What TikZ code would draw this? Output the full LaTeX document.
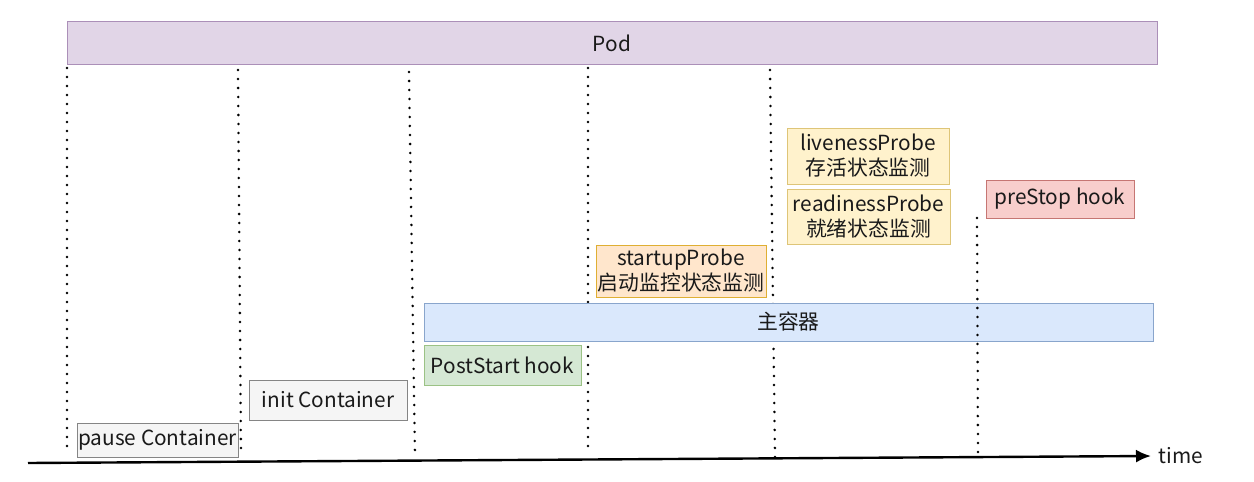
\documentclass[tikz,border=0pt]{standalone}
\usepackage{fontspec}
\setmainfont{Noto Sans CJK SC}
\usepackage{xcolor}
\usetikzlibrary{arrows.meta}

\definecolor{podFill}{HTML}{E1D5E7}
\definecolor{podLine}{HTML}{9673A6}
\definecolor{greyFill}{HTML}{F5F5F5}
\definecolor{greyLine}{HTML}{666666}
\definecolor{greenFill}{HTML}{D5E8D4}
\definecolor{greenLine}{HTML}{82B366}
\definecolor{blueFill}{HTML}{DAE8FC}
\definecolor{blueLine}{HTML}{6C8EBF}
\definecolor{orangeFill}{HTML}{FFE6CC}
\definecolor{orangeLine}{HTML}{D79B00}
\definecolor{yellowFill}{HTML}{FFF2CC}
\definecolor{yellowLine}{HTML}{D6B656}
\definecolor{redFill}{HTML}{F8CECC}
\definecolor{redLine}{HTML}{B85450}
\definecolor{textCol}{HTML}{1A1A1A}

\begin{document}
\begin{tikzpicture}
[
x=0.5pt, y=-0.5pt,
every node/.style={
	font=\fontsize{10.4pt}{12.5pt}\selectfont,
	text=textCol,
	align=center,
	inner sep=0pt,
	line width=0.5pt,
	rectangle},
boxSize/.style 2 args={
	minimum width=#1*0.5pt,
	minimum height=#2*0.5pt},
podBox/.style={draw=podLine!80, fill=podFill},
greyBox/.style={draw=greyLine!80, fill=greyFill},
greenBox/.style={draw=greenLine!80, fill=greenFill},
blueBox/.style={draw=blueLine!80, fill=blueFill},
orangeBox/.style={draw=orangeLine!80, fill=orangeFill},
yellowBox/.style={draw=yellowLine!80, fill=yellowFill},
redBox/.style={draw=redLine!80, fill=redFill},
dotLine/.style={
	line width=1.4pt,
	line cap=round,
	dash pattern=on 0pt off 4.5pt},
timeArr/.style={
	-{Latex[length=7.5pt,width=6.5pt]},
	line width=1.2pt}
]
\useasboundingbox (0,0) rectangle (1254,482);

%phase borders (behind the boxes)
\foreach \xa/\ya/\xb/\yb in {67/68/67/455, 238/70/241/455, 409/72/415/457, 588/68/588/455, 770/70/775/458}
	\draw [dotLine] (\xa,\ya) -- (\xb,\yb);

%pod
\node [podBox, boxSize={1090}{43}] (pod) at (612,43) {Pod};

%containers
\node [greyBox, boxSize={161}{34}] (pause) at (157.5,440) {pause Container};
\node [greyBox, boxSize={158}{40}] (init) at (328,400) {init Container};
\node [blueBox, boxSize={729}{38}] (main) at (788.5,322) {主容器};

%hooks
\node [greenBox, boxSize={157}{40}] (postStart) at (502.5,365) {PostStart hook};
\node [redBox, boxSize={148}{38}] (preStop) at (1060,199) {preStop hook};

%probes
\node [orangeBox, boxSize={170}{52}] (startup) at (681,271) {startupProbe\\启动监控状态监测};
\node [yellowBox, boxSize={162}{56}] (liveness) at (868,156) {livenessProbe\\存活状态监测};
\node [yellowBox, boxSize={163}{55}] (readiness) at (868.5,216.5) {readinessProbe\\就绪状态监测};

%stop border (over the main container)
\draw [dotLine] (977,218) -- (978,453);

%time axis
\coordinate (t0) at (28,463);
\coordinate (t1) at (1151,456);
\node (time) at (1181,456) {time};
\draw [timeArr] (t0) -- (t1);

\end{tikzpicture}
\end{document}
